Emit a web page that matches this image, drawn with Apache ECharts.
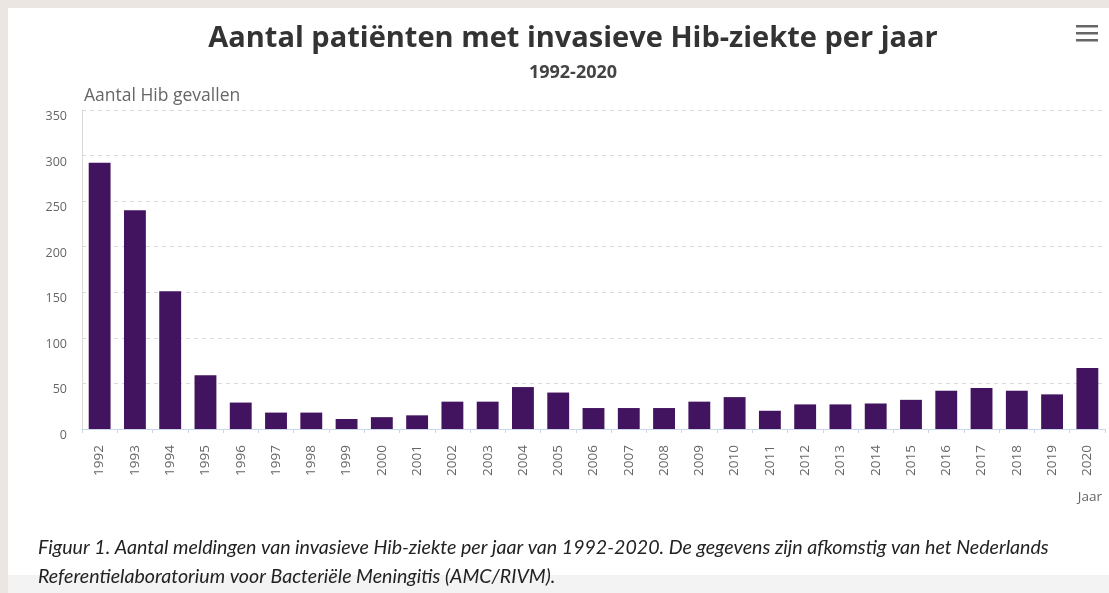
<!DOCTYPE html>
<html>
<head>
<meta charset="utf-8">
<script src="https://cdn.jsdelivr.net/npm/echarts@6/dist/echarts.min.js"></script>
<style>
  html, body { margin: 0; padding: 0; background: #ebe6e1; }
  #wrap { position: relative; width: 1109px; height: 593px; overflow: hidden; }
  #chart { position: absolute; left: 8px; top: 8px; width: 1101px; height: 585px; background: #ffffff; }
</style>
</head>
<body>
<div id="wrap"><div id="chart"></div></div>
<script>
// Hib cases reported per year, 1992-2020
const years = ['1992','1993','1994','1995','1996','1997','1998','1999','2000','2001',
  '2002','2003','2004','2005','2006','2007','2008','2009','2010','2011',
  '2012','2013','2014','2015','2016','2017','2018','2019','2020'];
const cases = [292, 240, 151, 59, 29, 18, 18, 11, 13, 15,
  30, 30, 46, 40, 23, 23, 23, 30, 35, 20,
  27, 27, 28, 32, 42, 45, 42, 38, 67];
const yTicks = [0, 50, 100, 150, 200, 250, 300, 350];

const titleText = 'Aantal patiënten met invasieve Hib-ziekte per jaar';
const subtitleText = '1992-2020';
const yName = 'Aantal Hib gevallen';
const xName = 'Jaar';
const captionLines = [
  'Figuur 1. Aantal meldingen van invasieve Hib-ziekte per jaar van 1992-2020. De gegevens zijn afkomstig van het Nederlands',
  'Referentielaboratorium voor Bacteriële Meningitis (AMC/RIVM).'
];

const chart = echarts.init(document.getElementById('chart'));
chart.setOption({
  animation: false,
  grid: { left: 74, right: 4, top: 102, height: 319 },
  xAxis: {
    type: 'category',
    data: years,
    axisLine: { show: true, lineStyle: { color: '#ccd6eb', width: 1 } },
    axisTick: { show: true, length: 4, lineStyle: { color: '#ccd6eb' } },
    axisLabel: { rotate: 90, color: '#666', fontFamily: 'Open Sans', fontSize: 13.5, margin: 16 }
  },
  yAxis: {
    type: 'value',
    min: yTicks[0],
    max: yTicks[yTicks.length - 1],
    interval: 50,
    name: yName,
    nameLocation: 'end',
    nameGap: 14,
    nameTextStyle: { align: 'left', verticalAlign: 'middle', color: '#666', fontFamily: 'Open Sans', fontSize: 17.5, padding: [0, 0, 0, 2] },
    axisLine: { show: true, lineStyle: { color: '#d8d8d8', width: 1 } },
    axisTick: { show: false },
    axisLabel: { color: '#666', fontFamily: 'Open Sans', fontSize: 12.5, margin: 15, verticalAlign: 'top' },
    splitLine: { show: true, lineStyle: { color: '#d9d9d9', type: [4, 4], width: 1 } }
  },
  series: [{
    type: 'bar',
    data: cases,
    barWidth: '62%',
    itemStyle: { color: '#42145f' }
  }],
  graphic: [
    { type: 'text', x: 565, y: 31,
      style: { text: titleText, fill: '#333', font: 'bold 29px "Open Sans"', align: 'center', verticalAlign: 'middle' } },
    { type: 'text', x: 565, y: 65,
      style: { text: subtitleText, fill: '#444', font: 'bold 18px "Open Sans"', align: 'center', verticalAlign: 'middle' } },
    { type: 'text', x: 1094, y: 489,
      style: { text: xName, fill: '#666', font: '13.5px "Open Sans"', align: 'right', verticalAlign: 'middle' } },
    // export menu icon
    { type: 'rect', shape: { x: 1068, y: 17, width: 22, height: 2.5 }, style: { fill: '#666' } },
    { type: 'rect', shape: { x: 1068, y: 24, width: 22, height: 2.5 }, style: { fill: '#666' } },
    { type: 'rect', shape: { x: 1068, y: 31, width: 22, height: 2.5 }, style: { fill: '#666' } },
    // caption strip
    { type: 'rect', shape: { x: 0, y: 567, width: 1101, height: 18 }, style: { fill: '#f3f3f3' }, z: -1 },
    { type: 'text', x: 30, y: 540,
      style: { text: captionLines[0], fill: '#222', font: 'italic 19.6px Lato', verticalAlign: 'middle' } },
    { type: 'text', x: 30, y: 569,
      style: { text: captionLines[1], fill: '#222', font: 'italic 19.6px Lato', verticalAlign: 'middle' } }
  ]
});
</script>
</body>
</html>
